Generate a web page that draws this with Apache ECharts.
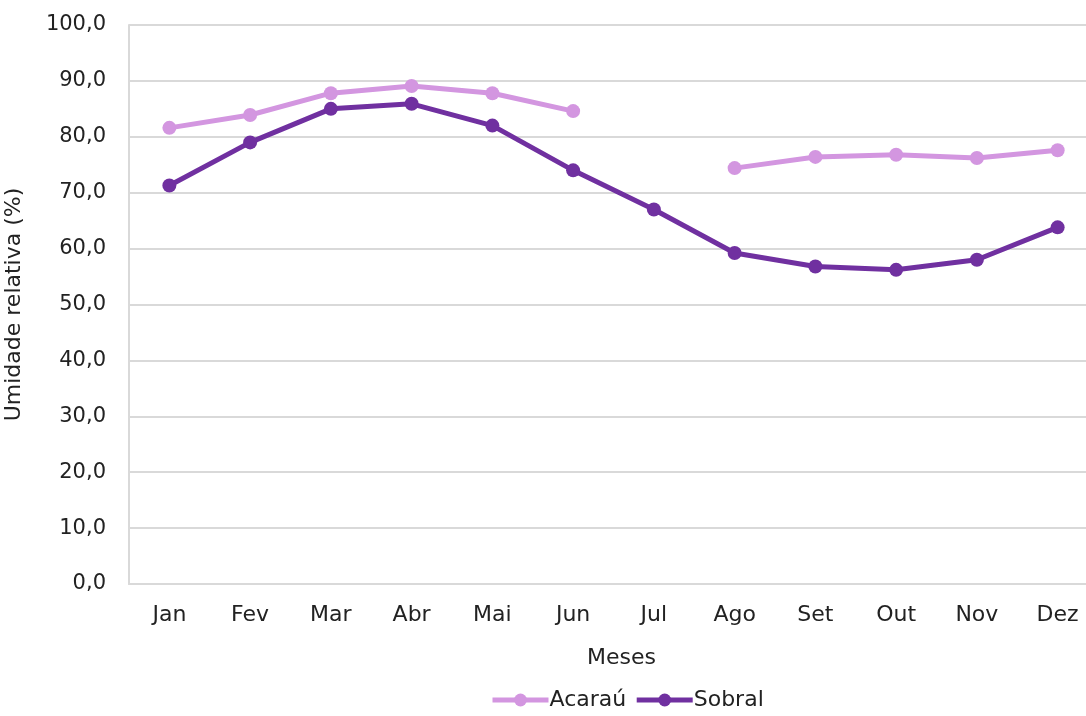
<!DOCTYPE html>
<html>
<head>
<meta charset="utf-8">
<script src="https://cdn.jsdelivr.net/npm/echarts@6/dist/echarts.min.js"></script>
<style>
  html, body { margin: 0; padding: 0; background: #fff; }
  #chart { width: 1086px; height: 716px; }
</style>
</head>
<body>
<div id="chart"></div>
<script>
const months = ['Jan', 'Fev', 'Mar', 'Abr', 'Mai', 'Jun', 'Jul', 'Ago', 'Set', 'Out', 'Nov', 'Dez'];
const acarau = [81.6, 83.9, 87.8, 89.1, 87.8, 84.6, null, 74.4, 76.4, 76.8, 76.2, 77.6];
const sobral = [71.3, 79.0, 85.0, 85.9, 82.0, 74.0, 67.0, 59.2, 56.8, 56.2, 58.0, 63.8];

const font = '"DejaVu Sans", sans-serif';
const chart = echarts.init(document.getElementById('chart'));

chart.setOption({
    animation: false,
    textStyle: { fontFamily: font },
    grid: { left: 129, right: -12, top: 25, bottom: 132, outerBoundsMode: 'none', containLabel: false },
    xAxis: {
        type: 'category',
        data: months,
        boundaryGap: true,
        name: 'Meses',
        nameLocation: 'middle',
        nameGap: 63,
        nameTextStyle: { fontSize: 22, color: '#222', fontFamily: font, padding: [0, 0, 0, 16] },
        axisLine: { lineStyle: { color: '#d9d9d9', width: 2 } },
        axisTick: { show: false },
        axisLabel: { fontSize: 22, color: '#222', margin: 20, fontFamily: font },
    },
    yAxis: {
        type: 'value',
        min: 0,
        max: 100,
        interval: 10,
        name: 'Umidade relativa (%)',
        nameLocation: 'middle',
        nameGap: 104,
        nameTextStyle: { fontSize: 22, color: '#222', fontFamily: font },
        axisLine: { show: true, lineStyle: { color: '#d9d9d9', width: 2 } },
        axisTick: { show: false },
        splitLine: { lineStyle: { color: '#d9d9d9', width: 2 } },
        axisLabel: {
            fontSize: 21,
            color: '#222',
            margin: 23,
            fontFamily: font,
            formatter: (v) => v.toFixed(1).replace('.', ','),
        },
    },
    legend: {
        bottom: 0,
        left: 485,
        itemWidth: 56,
        itemHeight: 16,
        itemGap: 8,
        lineStyle: { width: 5 },
        textStyle: { fontSize: 22, color: '#222', fontFamily: font, padding: [0, 0, 0, -4] },
        data: ['Acaraú', 'Sobral'],
    },
    series: [
        {
            name: 'Acaraú',
            type: 'line',
            data: acarau,
            connectNulls: false,
            symbol: 'circle',
            symbolSize: 14,
            lineStyle: { color: '#d396e0', width: 5 },
            itemStyle: { color: '#d396e0' },
        },
        {
            name: 'Sobral',
            type: 'line',
            data: sobral,
            symbol: 'circle',
            symbolSize: 14,
            lineStyle: { color: '#7030a0', width: 5 },
            itemStyle: { color: '#7030a0' },
        },
    ],
});
</script>
</body>
</html>
